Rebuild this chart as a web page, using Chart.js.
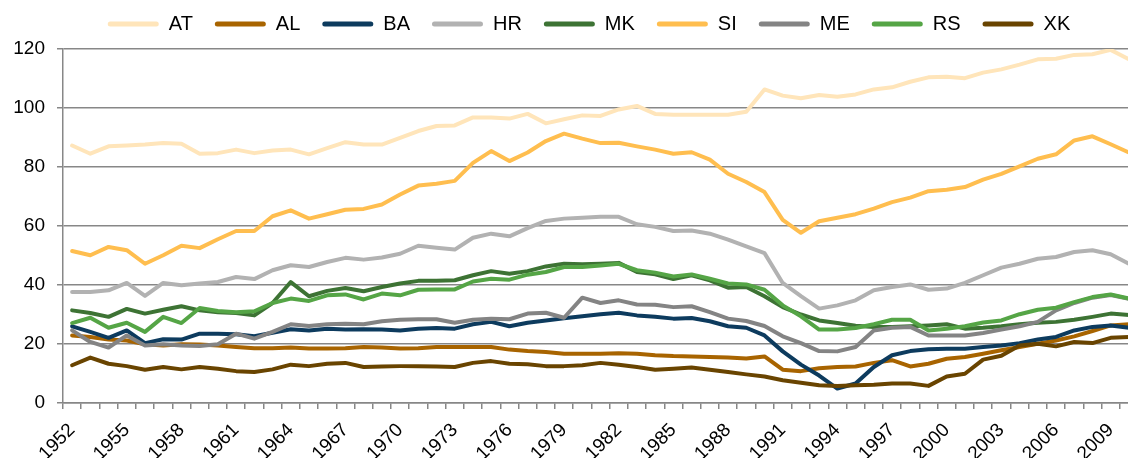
<!DOCTYPE html>
<html><head><meta charset="utf-8">
<script src="https://cdn.jsdelivr.net/npm/chart.js@4.4.1/dist/chart.umd.min.js"></script>
<style>
html,body{margin:0;padding:0;background:#fff;overflow:hidden;width:1128px;height:458px}
#wrap{position:relative;width:1178px;height:458px}
</style></head>
<body><div id="wrap"><canvas id="c"></canvas></div>
<script>
const years = ["1952","1953","1954","1955","1956","1957","1958","1959","1960","1961",
"1962","1963","1964","1965","1966","1967","1968","1969","1970","1971",
"1972","1973","1974","1975","1976","1977","1978","1979","1980","1981",
"1982","1983","1984","1985","1986","1987","1988","1989","1990","1991",
"1992","1993","1994","1995","1996","1997","1998","1999","2000","2001",
"2002","2003","2004","2005","2006","2007","2008","2009","2010"];
const tickLabels = ["1952","1955","1958","1961","1964","1967","1970","1973","1976","1979","1982","1985","1988","1991","1994","1997","2000","2003","2006","2009"];
const yTicks = [0,20,40,60,80,100,120];

const AT = [87.3,84.5,87.0,87.3,87.6,88.1,87.9,84.5,84.7,85.9,
84.7,85.6,85.9,84.3,86.4,88.4,87.6,87.6,89.9,92.2,
93.9,94.1,96.8,96.8,96.4,98.0,94.8,96.2,97.5,97.3,
99.5,100.7,98.0,97.7,97.7,97.7,97.7,98.7,106.3,104.2,
103.3,104.4,103.8,104.6,106.3,107.0,108.9,110.4,110.6,110.1,
112.0,113.1,114.7,116.5,116.7,118.0,118.2,119.7,116.5];
const AL = [22.9,22.4,21.5,21.2,19.9,19.5,19.9,19.8,19.5,19.0,
18.6,18.6,18.8,18.5,18.5,18.6,19.0,18.8,18.5,18.6,
19.0,19.0,19.0,19.0,18.1,17.6,17.3,16.7,16.7,16.7,
16.9,16.7,16.2,15.9,15.8,15.6,15.4,15.1,15.8,11.3,
10.8,11.8,12.2,12.4,13.6,14.5,12.4,13.3,15.0,15.6,
16.7,17.9,19.0,20.1,21.2,22.6,24.4,26.3,26.7];
const BA = [26.0,24.1,22.1,24.6,20.3,21.6,21.5,23.5,23.5,23.3,
22.6,23.8,25.0,24.6,25.2,24.9,25.0,24.9,24.6,25.2,
25.4,25.2,26.7,27.5,26.0,27.2,28.0,28.7,29.4,30.1,
30.6,29.7,29.2,28.6,28.8,27.7,26.0,25.5,22.9,17.5,
13.0,9.3,4.9,6.6,12.2,16.2,17.6,18.2,18.4,18.4,
19.0,19.5,20.3,21.5,22.4,24.6,25.8,26.3,25.5];
const HR = [37.6,37.6,38.2,40.7,36.3,40.7,39.9,40.5,41.0,42.7,
42.0,45.0,46.7,46.1,47.8,49.2,48.6,49.3,50.6,53.3,
52.6,52.0,56.0,57.4,56.5,59.3,61.7,62.5,62.8,63.1,
63.1,60.6,59.7,58.3,58.5,57.4,55.4,53.1,50.8,40.7,
36.2,32.0,33.1,34.8,38.2,39.3,40.2,38.4,38.8,40.7,
43.3,45.9,47.2,48.9,49.5,51.2,51.8,50.4,47.2];
const MK = [31.4,30.5,29.2,31.9,30.3,31.6,32.8,31.4,30.8,30.5,
29.7,33.9,41.0,36.2,38.0,39.0,37.9,39.3,40.5,41.4,
41.4,41.6,43.3,44.7,43.8,44.7,46.3,47.2,47.0,47.2,
47.5,44.4,43.6,42.0,43.3,41.6,39.1,39.3,36.2,32.5,
30.0,28.0,27.1,26.2,25.8,25.8,26.0,26.3,26.7,25.2,
25.5,26.0,26.7,27.2,27.5,28.2,29.2,30.3,29.8];
const SI = [51.5,50.1,52.9,51.8,47.2,50.1,53.3,52.5,55.5,58.3,
58.3,63.3,65.3,62.5,64.0,65.5,65.8,67.3,70.7,73.7,
74.3,75.3,81.4,85.4,82.0,84.9,88.8,91.3,89.6,88.1,
88.2,87.0,85.9,84.5,85.0,82.5,77.7,74.9,71.5,62.1,
57.7,61.6,62.8,64.0,65.9,68.1,69.6,71.8,72.3,73.2,
75.7,77.7,80.2,82.8,84.3,89.0,90.4,87.7,84.9];
const ME = [24.6,20.7,18.8,22.9,19.5,19.9,19.5,19.3,19.9,23.5,
21.8,24.1,26.7,26.1,26.7,26.9,26.7,27.7,28.2,28.4,
28.4,27.2,28.2,28.6,28.4,30.3,30.6,28.9,35.7,33.9,
34.8,33.4,33.3,32.5,32.8,30.8,28.6,27.8,26.1,22.6,
20.3,17.6,17.5,19.0,24.6,25.5,25.8,22.9,22.9,22.9,
23.7,24.9,26.0,27.5,31.4,33.9,35.7,36.6,35.3];
const RS = [27.1,28.9,25.5,27.2,24.1,29.2,27.1,32.2,31.2,30.8,
31.1,33.9,35.4,34.6,36.5,36.8,35.1,37.1,36.5,38.4,
38.5,38.5,41.2,42.1,41.8,43.5,44.4,46.1,46.1,46.6,
47.2,45.0,44.2,42.9,43.6,42.1,40.5,40.2,38.4,33.1,
29.4,24.9,24.9,25.4,26.7,28.2,28.2,24.6,25.2,26.0,
27.3,28.0,30.1,31.6,32.3,34.2,35.9,36.8,35.4];
const XK = [12.8,15.4,13.3,12.5,11.3,12.2,11.4,12.2,11.6,10.8,
10.5,11.4,13.0,12.5,13.3,13.6,12.2,12.4,12.5,12.5,
12.4,12.2,13.6,14.2,13.3,13.1,12.5,12.5,12.8,13.6,
13.0,12.2,11.3,11.6,12.0,11.3,10.5,9.7,9.0,7.7,
6.9,6.0,5.8,6.0,6.2,6.6,6.6,5.8,9.0,9.9,
14.7,16.0,19.5,20.1,19.2,20.7,20.3,22.1,22.4];

const seriesNames = ["AT","AL","BA","HR","MK","SI","ME","RS","XK"];
const seriesData = [AT,AL,BA,HR,MK,SI,ME,RS,XK];
const colors = ["#FFE5BA","#A86400","#0D3B5E","#B2B2B2","#3D7334","#FFBE4F","#848484","#55A546","#694400"];

const GRID = "#878787";
const FONT = "'Liberation Sans', Arial, sans-serif";

const datasets = seriesNames.map((n, i) => ({
  label: n,
  data: seriesData[i],
  borderColor: colors[i],
  backgroundColor: colors[i],
  borderWidth: 4,
  pointRadius: 0,
  tension: 0,
  borderJoinStyle: 'round',
  borderCapStyle: 'round',
  fill: false,
  order: seriesNames.length - i
}));

const shiftLegend = {
  id: 'shiftLegend',
  afterLayout(chart) {
    const l = chart.legend;
    if (l) { l.top -= 5; l.bottom -= 5; }
  }
};

new Chart(document.getElementById('c'), {
  type: 'line',
  data: { labels: years, datasets },
  plugins: [shiftLegend],
  options: {
    responsive: true,
    maintainAspectRatio: false,
    animation: false,
    layout: { padding: { top: -3, left: 0, right: 0, bottom: 0 } },
    plugins: {
      tooltip: { enabled: false },
      legend: {
        position: 'top',
        labels: {
          color: '#000',
          font: { family: FONT, size: 20 },
          boxWidth: 51,
          boxHeight: 5,
          padding: 22,
          useBorderRadius: true,
          borderRadius: 2.5,
          sort: (a, b) => a.datasetIndex - b.datasetIndex,
          generateLabels: (chart) => chart.data.datasets.map((d, i) => ({
            text: d.label, fillStyle: d.borderColor, strokeStyle: d.borderColor,
            lineWidth: 0, hidden: false, datasetIndex: i, fontColor: '#000', borderRadius: 2.5
          }))
        }
      }
    },
    scales: {
      x: {
        type: 'category',
        offset: true,
        grid: { offset: true, drawOnChartArea: false, drawTicks: true, tickLength: 6, color: GRID, lineWidth: 1.5 },
        border: { display: true, color: GRID, width: 1.5 },
        ticks: {
          autoSkip: false, maxRotation: 45, minRotation: 45, padding: 10,
          color: '#000', font: { family: FONT, size: 19 },
          callback: function(v, i) { const l = years[i]; return tickLabels.includes(l) ? l : ''; }
        },
        afterFit: (s) => { s.height = 55; }
      },
      y: {
        min: 0, max: 120,
        afterBuildTicks: (s) => { s.ticks = yTicks.map(v => ({ value: v })); },
        grid: { color: GRID, lineWidth: 1.5, tickLength: 6, drawTicks: true },
        border: { display: true, color: GRID, width: 1.5 },
        ticks: { color: '#000', font: { family: FONT, size: 19 }, padding: 12 },
        afterFit: (s) => { s.width = 63; }
      },
      yR: {
        position: 'right', display: true,
        grid: { display: false }, border: { display: false },
        ticks: { display: false },
        afterFit: (s) => { s.width = 40; }
      }
    }
  }
});
</script>
</body></html>
